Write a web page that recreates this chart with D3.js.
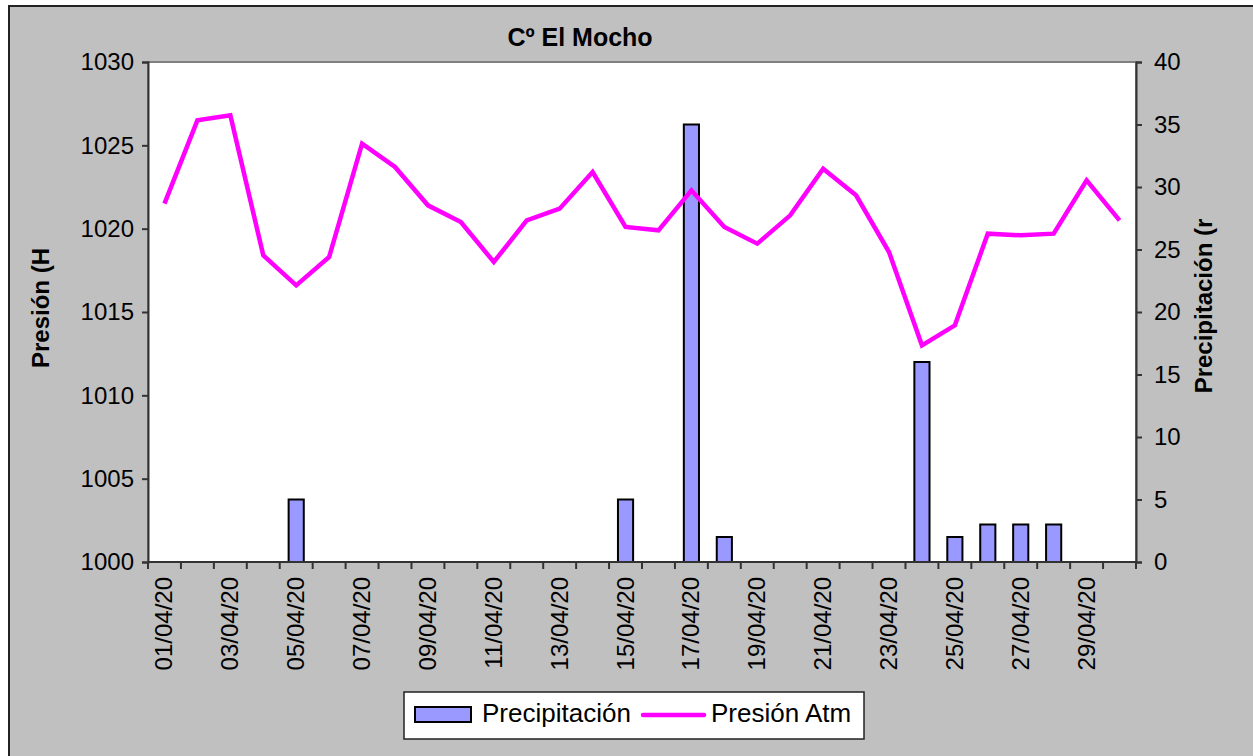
<!DOCTYPE html>
<html><head><meta charset="utf-8">
<script src="https://cdn.jsdelivr.net/npm/d3@7"></script>
<style>html,body{margin:0;padding:0;background:#fff;}svg{display:block;font-family:"Liberation Sans",Arial,sans-serif;}</style>
</head><body>
<script>
const days = ["01/04/20","02/04/20","03/04/20","04/04/20","05/04/20","06/04/20","07/04/20","08/04/20","09/04/20","10/04/20",
"11/04/20","12/04/20","13/04/20","14/04/20","15/04/20","16/04/20","17/04/20","18/04/20","19/04/20","20/04/20",
"21/04/20","22/04/20","23/04/20","24/04/20","25/04/20","26/04/20","27/04/20","28/04/20","29/04/20","30/04/20"];
const precipitacion = [0,0,0,0,5,0,0,0,0,0, 0,0,0,0,5,0,35,2,0,0, 0,0,0,16,2,3,3,3,0,0];
const presion = [1021.5,1026.5,1026.8,1018.4,1016.6,1018.3,1025.1,1023.7,1021.4,1020.4,
1018.0,1020.5,1021.2,1023.4,1020.1,1019.9,1022.3,1020.1,1019.1,1020.8,
1023.6,1022.0,1018.6,1013.0,1014.2,1019.7,1019.6,1019.7,1022.9,1020.5];
const leftTicks = [1000,1005,1010,1015,1020,1025,1030];
const rightTicks = [0,5,10,15,20,25,30,35,40];
const title = "Cº El Mocho";
const leftTitle = "Presión (H";
const rightTitle = "Precipitación (r";
const legendLabels = ["Precipitación","Presión Atm"];

const W = 1253, H = 756;
const L = 148, R = 1136, T = 62, B = 562;
const svg = d3.select("body").append("svg").attr("width", W).attr("height", H);

svg.append("rect").attr("x",0).attr("y",0).attr("width",W).attr("height",H).attr("fill","#fff");
svg.append("rect").attr("x",9).attr("y",6).attr("width",W+10).attr("height",H+10)
  .attr("fill","#c0c0c0").attr("stroke","#222").attr("stroke-width",2);

svg.append("rect").attr("x",L).attr("y",T).attr("width",R-L).attr("height",B-T)
  .attr("fill","#fff").attr("stroke","#808080").attr("stroke-width",2);

const x = d3.scaleBand().domain(days).range([L,R]).padding(0);
const yL = d3.scaleLinear().domain([1000,1030]).range([B,T]);
const yR = d3.scaleLinear().domain([0,40]).range([B,T]);

// bars
const bw = x.bandwidth()*0.46;
svg.append("g").selectAll("rect").data(days.map((d,i)=>({d,v:precipitacion[i]})).filter(e=>e.v>0))
  .join("rect")
  .attr("x", e => x(e.d) + x.bandwidth()/2 - bw/2)
  .attr("y", e => yR(e.v))
  .attr("width", bw)
  .attr("height", e => yR(0)-yR(e.v))
  .attr("fill","#9999ff").attr("stroke","#000").attr("stroke-width",2);

// line
const line = d3.line().x((d,i)=>x(days[i])+x.bandwidth()/2).y(d=>yL(d));
svg.append("path").datum(presion).attr("d",line).attr("fill","none")
  .attr("stroke","#ff00ff").attr("stroke-width",4.5).attr("stroke-linejoin","miter");

// axes
const axL = d3.axisLeft(yL).tickValues(leftTicks).tickSize(6).tickPadding(8).tickFormat(d3.format("d"));
const gL = svg.append("g").attr("transform",`translate(${L},0)`).call(axL);
const axR = d3.axisRight(yR).tickValues(rightTicks).tickSize(6).tickPadding(12).tickFormat(d3.format("d"));
const gR = svg.append("g").attr("transform",`translate(${R},0)`).call(axR);
[gL,gR].forEach(g=>{
  g.select(".domain").attr("stroke","#333").attr("stroke-width",2);
  g.selectAll(".tick line").attr("stroke","#333").attr("stroke-width",2);
  g.selectAll("text").attr("font-size",24).attr("fill","#000").attr("font-family","Liberation Sans, Arial, sans-serif");
});

// x axis
const gX = svg.append("g").attr("transform",`translate(0,${B})`);
gX.append("line").attr("x1",L).attr("x2",R).attr("y1",0).attr("y2",0).attr("stroke","#333").attr("stroke-width",2);
const bounds = days.map(d=>x(d)).concat([R]);
gX.selectAll("line.t").data(bounds).join("line").attr("class","t")
  .attr("x1",d=>d).attr("x2",d=>d).attr("y1",0).attr("y2",7).attr("stroke","#333").attr("stroke-width",2);
gX.selectAll("text").data(days.filter((d,i)=>i%2===0)).join("text")
  .attr("transform",d=>`translate(${x(d)+x.bandwidth()/2+8},15) rotate(-90)`)
  .attr("text-anchor","end").attr("font-size",24).attr("fill","#000")
  .text(d=>d);

// titles
svg.append("text").attr("x",580).attr("y",46).attr("text-anchor","middle")
  .attr("font-size",25).attr("font-weight","bold").text(title);
svg.append("text").attr("transform","translate(49,308) rotate(-90)").attr("text-anchor","middle")
  .attr("font-size",24).attr("font-weight","bold").text(leftTitle);
svg.append("text").attr("transform","translate(1212,306) rotate(-90)").attr("text-anchor","middle")
  .attr("font-size",24).attr("font-weight","bold").text(rightTitle);

// legend
const lg = svg.append("g");
lg.append("rect").attr("x",404).attr("y",692).attr("width",460).attr("height",47)
  .attr("fill","#fff").attr("stroke","#222").attr("stroke-width",1.5);
lg.append("rect").attr("x",415).attr("y",707).attr("width",56).attr("height",15)
  .attr("fill","#9999ff").attr("stroke","#000").attr("stroke-width",2);
lg.append("text").attr("x",482).attr("y",722).attr("font-size",26).text(legendLabels[0]);
lg.append("line").attr("x1",643).attr("x2",704).attr("y1",715).attr("y2",715)
  .attr("stroke","#ff00ff").attr("stroke-width",4.5).attr("stroke-linecap","round");
lg.append("text").attr("x",711).attr("y",722).attr("font-size",26).text(legendLabels[1]);
</script>
</body></html>
